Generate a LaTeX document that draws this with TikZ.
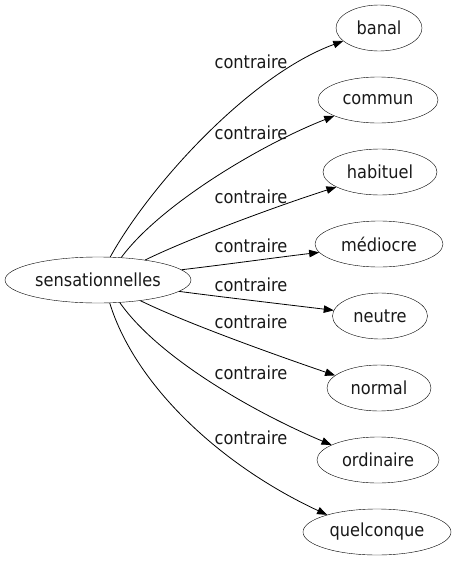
\documentclass[tikz,border=0pt]{standalone}
\usepackage{fontspec}
\setmainfont{DejaVu Sans Condensed}
\usetikzlibrary{shapes.geometric,arrows.meta}
\tikzset{
  nd/.style={draw, ellipse, inner sep=0pt, minimum height=46pt, font=\fontsize{18}{21}\selectfont, text=black!90},
  lbl/.style={font=\fontsize{18}{21}\selectfont, text=black!90, inner sep=0pt},
  edge/.style={draw, line width=0.8pt, -{Triangle[length=10pt,width=7.5pt]}}
}
\begin{document}
\begin{tikzpicture}[x=1pt,y=-1pt]
\useasboundingbox (0,0) rectangle (458,563);
\node[nd, minimum width=186pt] (s) at (98,280) {sensationnelles};
\node[nd, minimum width=86pt]  (t1) at (379,28)  {banal};
\node[nd, minimum width=120pt] (t2) at (378,100) {commun};
\node[nd, minimum width=114pt] (t3) at (380,172) {habituel};
\node[nd, minimum width=128pt] (t4) at (379,244) {médiocre};
\node[nd, minimum width=95pt]  (t5) at (380,316) {neutre};
\node[nd, minimum width=104pt] (t6) at (379,388) {normal};
\node[nd, minimum width=122pt] (t7) at (378,460) {ordinaire};
\node[nd, minimum width=148pt] (t8) at (377,532) {quelconque};
\draw[edge] (s.62)  .. controls (150,185) and (250,75)  .. (t1.200);
\draw[edge] (s.44)  .. controls (160,205) and (260,145) .. (t2.200);
\draw[edge] (s.23)  .. controls (190,238) and (280,205) .. (t3.199);
\draw[edge] (s.7)   .. controls (230,264) and (280,257) .. (t4.188);
\draw[edge] (s.-8)  .. controls (230,298) and (290,305) .. (t5.173);
\draw[edge] (s.-26) .. controls (190,325) and (290,360) .. (t6.164);
\draw[edge] (s.-46) .. controls (160,360) and (260,415) .. (t7.162);
\draw[edge] (s.-63) .. controls (135,385) and (220,465) .. (t8.161);
\node[lbl] (l1) at (251,62)  {contraire};
\node[lbl] (l2) at (251,133) {contraire};
\node[lbl] (l3) at (251,197) {contraire};
\node[lbl] (l4) at (251,246) {contraire};
\node[lbl] (l5) at (251,285) {contraire};
\node[lbl] (l6) at (251,322) {contraire};
\node[lbl] (l7) at (251,373) {contraire};
\node[lbl] (l8) at (251,438) {contraire};
\end{tikzpicture}
\end{document}
